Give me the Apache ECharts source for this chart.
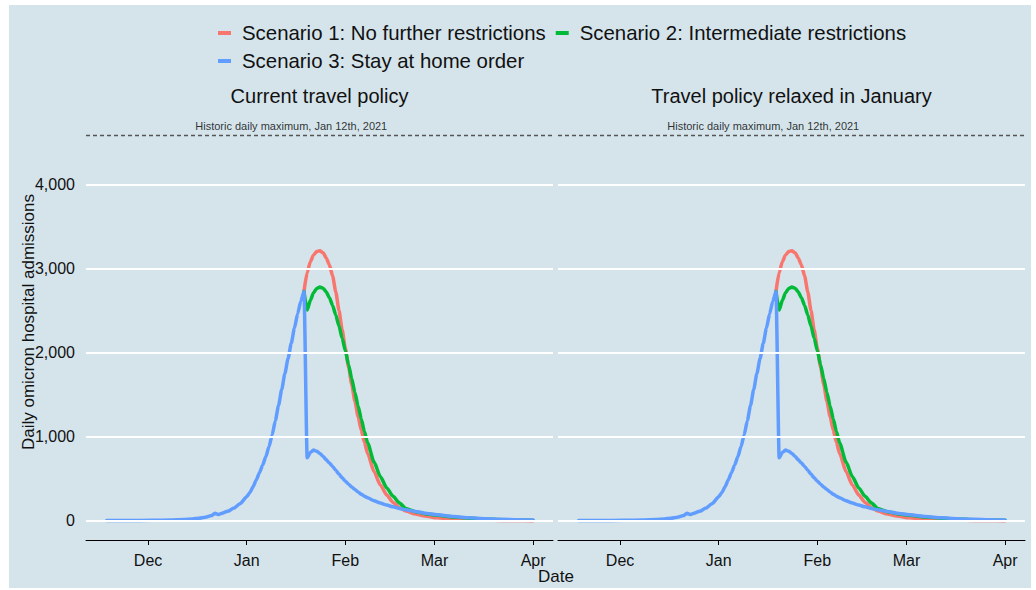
<!DOCTYPE html>
<html>
<head>
<meta charset="utf-8">
<script src="https://cdn.jsdelivr.net/npm/echarts@6/dist/echarts.min.js"></script>
<style>
  html, body { margin: 0; padding: 0; background: #ffffff; }
  #chart { width: 1036px; height: 590px; }
</style>
</head>
<body>
<div id="chart"></div>
<script>
// ---------------- DATA ----------------
const scenarioNames = [
  'Scenario 1: No further restrictions',
  'Scenario 2: Intermediate restrictions',
  'Scenario 3: Stay at home order'
];
const panelTitles = ['Current travel policy', 'Travel policy relaxed in January'];

// Shared trajectory before restrictions start (all scenarios identical)
const preDates = [
  '2021-11-18','2021-11-25','2021-12-02','2021-12-08','2021-12-12','2021-12-15','2021-12-17',
  '2021-12-19','2021-12-21','2021-12-22','2021-12-23','2021-12-24','2021-12-26','2021-12-28',
  '2021-12-30','2022-01-01','2022-01-02','2022-01-03','2022-01-04','2022-01-05','2022-01-06',
  '2022-01-07','2022-01-08','2022-01-09','2022-01-10','2022-01-11','2022-01-12','2022-01-13',
  '2022-01-14','2022-01-15','2022-01-16','2022-01-17','2022-01-18','2022-01-19'
];
const preValues = [
  2, 3, 5, 8, 14, 22, 30,
  42, 62, 88, 74, 85, 112, 150,
  205, 285, 335, 405, 485, 570, 660,
  760, 880, 1020, 1190, 1370, 1560, 1750,
  1930, 2110, 2290, 2460, 2610, 2725
];

// Trajectories after restrictions start
const postDates = [
  '2022-01-20','2022-01-21','2022-01-22','2022-01-23','2022-01-24','2022-01-25','2022-01-26',
  '2022-01-27','2022-01-28','2022-01-29','2022-01-30','2022-01-31','2022-02-01','2022-02-02',
  '2022-02-03','2022-02-04','2022-02-05','2022-02-06','2022-02-07','2022-02-08','2022-02-10',
  '2022-02-12','2022-02-14','2022-02-16','2022-02-18','2022-02-20','2022-02-23','2022-02-26',
  '2022-03-02','2022-03-07','2022-03-12','2022-03-17','2022-03-22','2022-03-27','2022-04-01'
];
const scen1Post = [
  2950, 3080, 3160, 3200, 3210, 3185, 3125,
  3040, 2910, 2720, 2500, 2270, 2050, 1830,
  1620, 1420, 1240, 1075, 930, 800, 585,
  425, 305, 218, 155, 115, 80, 55,
  35, 20, 11, 6, 4, 2, 1
];
const scen2Post = [
  2505, 2620, 2710, 2760, 2778, 2765, 2720,
  2650, 2560, 2445, 2315, 2170, 2020, 1855,
  1690, 1525, 1365, 1210, 1060, 925, 700,
  525, 390, 290, 210, 145, 108, 84,
  64, 44, 30, 20, 13, 9, 6
];
const scen3Post = [
  748, 810, 840, 825, 800, 765, 725,
  685, 645, 600, 555, 510, 470, 435,
  400, 370, 342, 316, 292, 272, 238,
  210, 186, 165, 146, 130, 110, 90,
  70, 50, 35, 25, 18, 13, 10
];

const monthTickDates = ['2021-12-01','2022-01-01','2022-02-01','2022-03-01','2022-04-01'];
const monthLabels = ['Dec','Jan','Feb','Mar','Apr'];
const yTicks = [0, 1000, 2000, 3000, 4000];

const historicMax = 4583;
const historicLabel = 'Historic daily maximum, Jan 12th, 2021';
const historicLabelDate = '2022-01-15';
const historicLabelValue = 4690;

const colors = ['#F8766D', '#00BA38', '#619CFF'];

// ---------------- BUILD ----------------
function toTime(s) {
  const p = s.split('-').map(Number);
  return Date.UTC(p[0], p[1] - 1, p[2]);
}
const monthTickTimes = monthTickDates.map(toTime);
const xMin = Date.UTC(2021, 10, 11, 12);
const xMax = Date.UTC(2022, 3, 7, 6);

function pairs(dates, values) {
  return dates.map((d, i) => [toTime(d), values[i]]);
}
const prePairs = pairs(preDates, preValues);
const lastPre = prePairs[prePairs.length - 1];
// Scenarios 1 & 2 branch from the shared peak; scenario 3 carries the shared history
const seriesData = [
  [lastPre].concat(pairs(postDates, scen1Post)),
  [lastPre].concat(pairs(postDates, scen2Post)),
  prePairs.concat(pairs(postDates, scen3Post))
];

const FONT = '"Liberation Sans", Arial, sans-serif';
const TXT = '#111111';

const gridDefs = [
  { left: 86, top: 116, width: 467, height: 424 },
  { left: 558, top: 116, width: 467, height: 424 }
];

const xAxes = gridDefs.map((g, i) => ({
  type: 'value', gridIndex: i, min: xMin, max: xMax,
  axisLine: { show: true, onZero: false, lineStyle: { color: '#000', width: 1 } },
  axisTick: { show: true, length: 5, lineStyle: { color: '#000', width: 1 }, customValues: monthTickTimes },
  axisLabel: {
    show: true, customValues: monthTickTimes, fontSize: 16, color: TXT, fontFamily: FONT, margin: 12,
    formatter: v => { const k = monthTickTimes.indexOf(v); return k >= 0 ? monthLabels[k] : ''; }
  },
  splitLine: { show: false }
}));

const yAxes = gridDefs.map((g, i) => ({
  type: 'value', gridIndex: i, min: -229, max: 4812,
  axisLine: { show: false }, axisTick: { show: false },
  axisLabel: {
    show: i === 0, customValues: yTicks, fontSize: 16, color: TXT, fontFamily: FONT, margin: 11,
    formatter: v => v.toLocaleString('en-US')
  },
  splitLine: { show: false }
}));

const series = [];
gridDefs.forEach((g, gi) => {
  series.push({
    type: 'line', xAxisIndex: gi, yAxisIndex: gi, data: [], z: 1, silent: true,
    markLine: {
      silent: true, symbol: 'none', animation: false,
      label: { show: false },
      data: yTicks.map(v => ({ yAxis: v, lineStyle: { color: '#ffffff', width: 2, type: 'solid' } }))
        .concat([{ yAxis: historicMax, lineStyle: { color: '#555555', width: 1.3, type: [4, 3] } }])
    }
  });
  scenarioNames.forEach((name, si) => {
    series.push({
      name: name, type: 'line', xAxisIndex: gi, yAxisIndex: gi,
      data: seriesData[si], showSymbol: false, symbol: 'none', z: 2 + si,
      smooth: 0.2, smoothMonotone: 'x',
      lineStyle: { color: colors[si], width: 3.5, join: 'round', cap: 'round' }, itemStyle: { color: colors[si] },
      emphasis: { disabled: true }, animation: false
    });
  });
  series.push({
    type: 'scatter', xAxisIndex: gi, yAxisIndex: gi, z: 10, silent: true,
    data: [[toTime(historicLabelDate), historicLabelValue]],
    symbolSize: 1, itemStyle: { color: 'rgba(0,0,0,0)' },
    label: { show: true, position: 'inside', formatter: historicLabel, fontSize: 11, color: '#000', fontFamily: FONT }
  });
});

const legendCommon = {
  orient: 'horizontal', icon: 'rect', itemWidth: 13, itemHeight: 4, itemGap: 10,
  selectedMode: false, padding: 0,
  textStyle: { fontSize: 20.4, color: TXT, fontFamily: FONT, padding: [0, 0, 0, 6] }
};

const option = {
  animation: false,
  backgroundColor: '#ffffff',
  graphic: [
    { type: 'rect', z: -100, silent: true, shape: { x: 9, y: 5, width: 1022, height: 583 }, style: { fill: '#d5e4eb' } },
    { type: 'text', silent: true, x: 28, y: 322, rotation: Math.PI / 2,
      style: { text: 'Daily omicron hospital admissions', fontSize: 17, fill: TXT, fontFamily: FONT, textAlign: 'center', textVerticalAlign: 'middle' } },
    { type: 'text', silent: true, x: 556, y: 576,
      style: { text: 'Date', fontSize: 17, fill: TXT, fontFamily: FONT, textAlign: 'center', textVerticalAlign: 'middle' } }
  ],
  title: panelTitles.map((t, i) => ({
    text: t, left: gridDefs[i].left + gridDefs[i].width / 2, top: 86, textAlign: 'center', padding: 0,
    textStyle: { fontSize: 20, fontWeight: 'normal', color: TXT, fontFamily: FONT }
  })),
  legend: [
    Object.assign({}, legendCommon, { data: [scenarioNames[0], scenarioNames[1]], left: 218, top: 23 }),
    Object.assign({}, legendCommon, { data: [scenarioNames[2]], left: 218, top: 51 })
  ],
  grid: gridDefs,
  xAxis: xAxes,
  yAxis: yAxes,
  series: series
};

const chart = echarts.init(document.getElementById('chart'), null, { renderer: 'svg', width: 1036, height: 590 });
chart.setOption(option);
</script>
</body>
</html>
